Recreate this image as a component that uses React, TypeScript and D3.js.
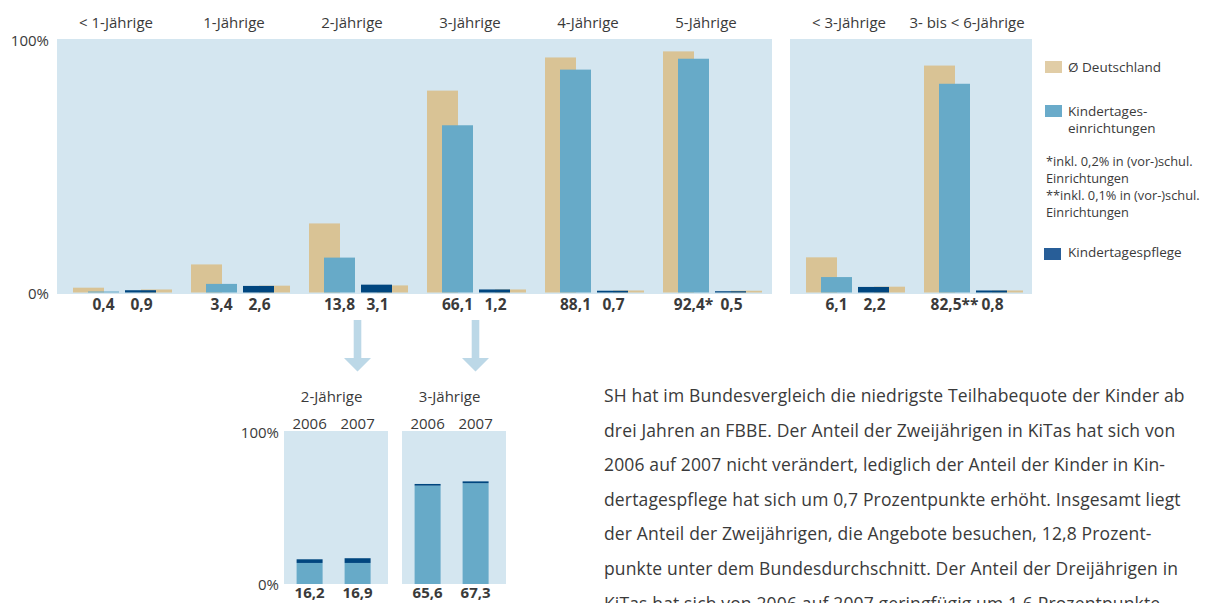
import React from "react";
import * as d3 from "d3";

// Teilhabequoten (in %) nach Altersjahren, SH 2007 vs. Ø Deutschland
const ageGroups = ["< 1-Jährige", "1-Jährige", "2-Jährige", "3-Jährige", "4-Jährige", "5-Jährige"];
const kitaValues = [0.4, 3.4, 13.8, 66.1, 88.1, 92.4];
const kitaMarks = ["", "", "", "", "", "*"];
const pflegeValues = [0.9, 2.6, 3.1, 1.2, 0.7, 0.5];
const deKitaValues = [1.9, 11.1, 27.3, 79.8, 92.9, 95.3];
const dePflegeValues = [1.2, 2.7, 2.8, 1.2, 0.8, 0.7];

const sumGroups = ["< 3-Jährige", "3- bis < 6-Jährige"];
const sumKitaValues = [6.1, 82.5];
const sumKitaMarks = ["", "**"];
const sumPflegeValues = [2.2, 0.8];
const sumDeKitaValues = [13.9, 89.7];
const sumDePflegeValues = [2.3, 0.8];

// Entwicklung 2006 -> 2007
const trendGroups = ["2-Jährige", "3-Jährige"];
const years = ["2006", "2007"];
const trendKita = [
  [13.8, 13.8],
  [64.5, 66.1],
];
const trendPflege = [
  [2.4, 3.1],
  [1.1, 1.2],
];

const yTicks = [0, 100];

const paragraph = [
  "SH hat im Bundesvergleich die niedrigste Teilhabequote der Kinder ab",
  "drei Jahren an FBBE. Der Anteil der Zweijährigen in KiTas hat sich von",
  "2006 auf 2007 nicht verändert, lediglich der Anteil der Kinder in Kin-",
  "dertagespflege hat sich um 0,7 Prozentpunkte erhöht. Insgesamt liegt",
  "der Anteil der Zweijährigen, die Angebote besuchen, 12,8 Prozent-",
  "punkte unter dem Bundesdurchschnitt. Der Anteil der Dreijährigen in",
  "KiTas hat sich von 2006 auf 2007 geringfügig um 1,6 Prozentpunkte",
];

const C = {
  bg: "#d4e6f0",
  tan: "#d9c395",
  blue: "#67aac8",
  dark: "#00467f",
  tanLegend: "#e1cda6",
  blueLegend: "#6aabca",
  darkLegend: "#285e98",
  arrow: "#bcd8e7",
  text: "#3a3a3a",
};

const FONT = "'Open Sans', 'Noto Sans', sans-serif";
const fmt = (v: number) => v.toFixed(1).replace(".", ",");

const BAR_W = 31;
const SHIFT = 15;
const PFLEGE_OFF = 52;

const W = 1217;
const H = 603;

const y = d3.scaleLinear().domain([0, 100]).range([292.5, 39.5]);
const xMain = d3.scaleBand<string>().domain(ageGroups).range([73, 781]);
const xSum = d3.scaleBand<string>().domain(sumGroups).range([806, 1042]);

const yB = d3.scaleLinear().domain([0, 100]).range([584, 431.5]);
const xPanel = d3
  .scaleBand<string>()
  .domain(trendGroups)
  .range([284, 506])
  .paddingInner(14 / 118);

function Groups({
  x,
  cats,
  kita,
  marks,
  pflege,
  deKita,
  dePflege,
}: {
  x: d3.ScaleBand<string>;
  cats: string[];
  kita: number[];
  marks: string[];
  pflege: number[];
  deKita: number[];
  dePflege: number[];
}) {
  const base = y(0);
  return (
    <g>
      {cats.map((c, i) => {
        const x0 = x(c)!;
        return (
          <g key={c}>
            <text
              x={x0 + 43}
              y={28}
              textAnchor="middle"
              fontSize={15}
              fill={C.text}
            >
              {c}
            </text>
            <rect x={x0} y={y(deKita[i])} width={BAR_W} height={base - y(deKita[i])} fill={C.tan} />
            <rect x={x0 + SHIFT} y={y(kita[i])} width={BAR_W} height={base - y(kita[i])} fill={C.blue} />
            <rect
              x={x0 + PFLEGE_OFF + SHIFT + 1}
              y={y(dePflege[i])}
              width={BAR_W}
              height={base - y(dePflege[i])}
              fill={C.tan}
            />
            <rect x={x0 + PFLEGE_OFF} y={y(pflege[i])} width={BAR_W} height={base - y(pflege[i])} fill={C.dark} />
            <text
              x={x0 + SHIFT + BAR_W / 2}
              y={310}
              textAnchor="middle"
              fontSize={15.5}
              fontWeight={700}
              fill={C.text}
            >
              {fmt(kita[i]) + marks[i]}
            </text>
            <text
              x={x0 + PFLEGE_OFF + BAR_W / 2 + 1}
              y={310}
              textAnchor="middle"
              fontSize={15.5}
              fontWeight={700}
              fill={C.text}
            >
              {fmt(pflege[i])}
            </text>
          </g>
        );
      })}
    </g>
  );
}

function Arrow({ cx }: { cx: number }) {
  const top = 320;
  const headTop = 358;
  const tip = 371.5;
  const path = d3.path();
  path.moveTo(cx - 3.8, top);
  path.lineTo(cx + 3.8, top);
  path.lineTo(cx + 3.8, headTop);
  path.lineTo(cx + 13.5, headTop);
  path.lineTo(cx, tip);
  path.lineTo(cx - 13.5, headTop);
  path.lineTo(cx - 3.8, headTop);
  path.closePath();
  return <path d={path.toString()} fill={C.arrow} />;
}

export default function App() {
  return (
    <div style={{ position: "absolute", left: 0, top: 0, width: W, height: H, background: "#fff" }}>
      <svg width={W} height={H} fontFamily={FONT} style={{ display: "block" }}>
        {/* top panels */}
        <rect x={57} y={39} width={715} height={255} fill={C.bg} />
        <rect x={790} y={39} width={242} height={255} fill={C.bg} />
        {yTicks.map((t) => (
          <text key={t} x={49} y={y(t) + 6} textAnchor="end" fontSize={15} fill={C.text}>
            {t + "%"}
          </text>
        ))}
        <Groups
          x={xMain}
          cats={ageGroups}
          kita={kitaValues}
          marks={kitaMarks}
          pflege={pflegeValues}
          deKita={deKitaValues}
          dePflege={dePflegeValues}
        />
        <Groups
          x={xSum}
          cats={sumGroups}
          kita={sumKitaValues}
          marks={sumKitaMarks}
          pflege={sumPflegeValues}
          deKita={sumDeKitaValues}
          dePflege={sumDePflegeValues}
        />

        {/* legend */}
        <g fontSize={13.5} fill={C.text}>
          <rect x={1045} y={61} width={17} height={12} fill={C.tanLegend} />
          <text x={1068} y={72}>Ø Deutschland</text>
          <rect x={1045} y={105} width={17} height={12} fill={C.blueLegend} />
          <text x={1068} y={116}>Kindertages-</text>
          <text x={1068} y={133}>einrichtungen</text>
          <g fontSize={12.8}>
            <text x={1046} y={166}>*inkl. 0,2% in (vor-)schul.</text>
            <text x={1046} y={183}>Einrichtungen</text>
            <text x={1046} y={200}>**inkl. 0,1% in (vor-)schul.</text>
            <text x={1046} y={217}>Einrichtungen</text>
          </g>
          <rect x={1044} y={248} width={17} height={12} fill={C.darkLegend} />
          <text x={1068} y={257}>Kindertagespflege</text>
        </g>

        {/* arrows */}
        {["2-Jährige", "3-Jährige"].map((g) => (
          <Arrow key={g} cx={xMain(g)! + 48.5} />
        ))}

        {/* bottom chart */}
        {yTicks.map((t) => (
          <text key={t} x={279} y={yB(t) + 6} textAnchor="end" fontSize={15} fill={C.text}>
            {t + "%"}
          </text>
        ))}
        {trendGroups.map((g, gi) => {
          const px = xPanel(g)!;
          const pw = xPanel.bandwidth();
          const xb = d3
            .scaleBand<string>()
            .domain(years)
            .range([px, px + pw])
            .paddingInner(22 / 48)
            .paddingOuter(0.3125)
            .align(0.42);
          const bw = xb.bandwidth();
          return (
            <g key={g}>
              <rect x={px} y={431} width={pw} height={153} fill={C.bg} />
              <text
                x={xb(years[0])! + (xb(years[1])! + bw - xb(years[0])!) / 2 - 2}
                y={402}
                textAnchor="middle"
                fontSize={15}
                fill={C.text}
              >
                {g}
              </text>
              {years.map((yr, yi) => {
                const k = trendKita[gi][yi];
                const p = trendPflege[gi][yi];
                const bx = xb(yr)!;
                return (
                  <g key={yr}>
                    <text x={bx + bw / 2} y={429} textAnchor="middle" fontSize={15} fill={C.text}>
                      {yr}
                    </text>
                    <rect x={bx} y={yB(k)} width={bw} height={yB(0) - yB(k)} fill={C.blue} />
                    <rect x={bx} y={yB(k + p)} width={bw} height={yB(k) - yB(k + p)} fill={C.dark} />
                    <text
                      x={bx + bw / 2}
                      y={598}
                      textAnchor="middle"
                      fontSize={15}
                      fontWeight={700}
                      fill={C.text}
                    >
                      {fmt(k + p)}
                    </text>
                  </g>
                );
              })}
            </g>
          );
        })}

        {/* paragraph */}
        <g fontSize={17.5} fill={C.text} letterSpacing={0.15}>
          {paragraph.map((line, i) => (
            <text key={i} x={604} y={402 + i * 34.6}>
              {line}
            </text>
          ))}
        </g>
      </svg>
    </div>
  );
}
